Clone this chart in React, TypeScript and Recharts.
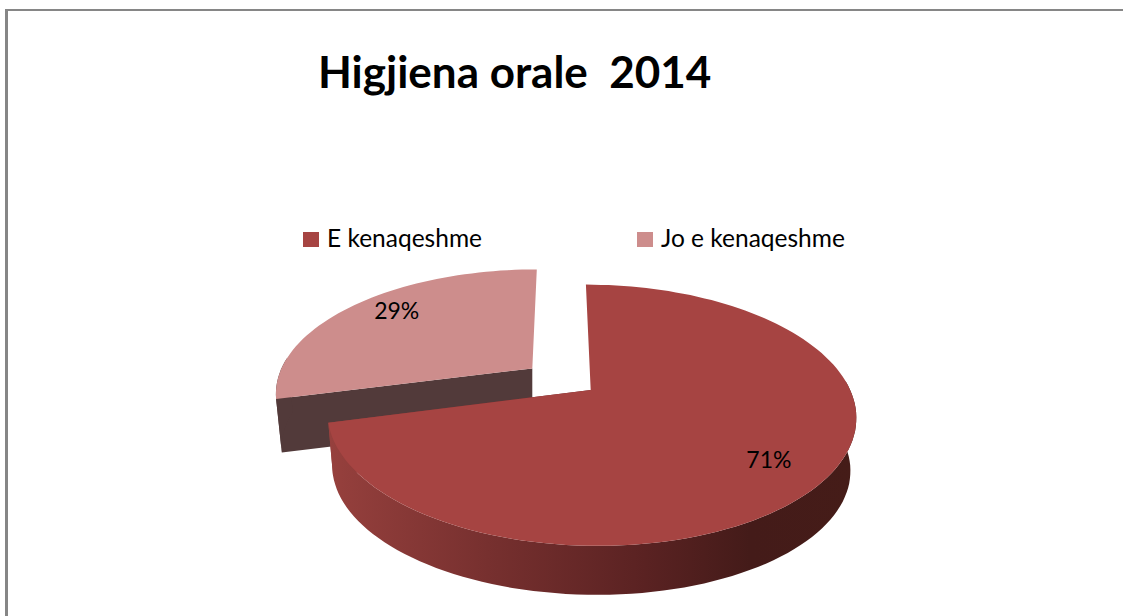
import { Pie, PieChart } from "recharts";

const categories = ["E kenaqeshme", "Jo e kenaqeshme"];
const shares = [71, 29];
const colors = ["#a64442", "#cd8d8c"];
const legendLeft = [303, 637];

const WIDTH = 1123;
const HEIGHT = 616;
const FONT = "Lato, 'Open Sans', sans-serif";

// drawn back slice first so the big slice overlaps it, legend keeps the source order
const rows = categories
  .map((name, i) => ({ name, value: shares[i], fill: colors[i] }))
  .reverse();

const firstAngle = 90 - (360 * shares[0]) / (shares[0] + shares[1]);

// perspective of the tilted pie
const TILT = 0.19;
const SQUASH = 121.5;
const EXPLODE = 37;
const DEPTH = 54;
const RAD = Math.PI / 180;

function project(
  cx: number,
  cy: number,
  radius: number,
  angle: number,
  r: number,
  mid: number,
) {
  const wx = EXPLODE * Math.cos(mid * RAD) + r * Math.cos(angle * RAD);
  const wy = (EXPLODE * -Math.sin(mid * RAD) + r * -Math.sin(angle * RAD)) / radius;
  const w = 1 - TILT * wy;
  return { x: cx + wx / w, y: cy + (SQUASH * wy) / w };
}

function lower(p: { x: number; y: number }, cx: number, cy: number) {
  return { x: cx + (p.x - cx) * 0.98, y: cy + (p.y - cy) * 0.97 + DEPTH };
}

function toPath(points: { x: number; y: number }[]) {
  return (
    points
      .map((p, i) => `${i ? "L" : "M"}${p.x.toFixed(1)} ${p.y.toFixed(1)}`)
      .join(" ") + " Z"
  );
}

function Slice(props: any) {
  const { cx, cy, outerRadius, startAngle, endAngle, fill } = props;
  const mid = (startAngle + endAngle) / 2;
  const steps = Math.ceil(Math.abs(endAngle - startAngle) / 2);
  const rim = [];
  const frontRim = [];
  for (let i = 0; i <= steps; i++) {
    const a = startAngle + ((endAngle - startAngle) * i) / steps;
    const p = project(cx, cy, outerRadius, a, outerRadius, mid);
    rim.push(p);
    // the back of the rim is hidden, its wall would poke out at the cuts
    if (Math.sin(a * RAD) < 0.1) frontRim.push(p);
  }
  const apex = project(cx, cy, outerRadius, mid, 0, mid);
  const frontBelow = frontRim.map((p) => lower(p, cx, cy));
  const isFront = fill === colors[0];
  const wallFill = isFront ? "url(#frontWall)" : "#523a3a";
  // only the cut that faces the viewer shows a wall
  const cut = isFront ? rim[rim.length - 1] : rim[0];

  return (
    <g>
      <defs>
        <linearGradient
          id="frontWall"
          gradientUnits="userSpaceOnUse"
          x1={330}
          y1={0}
          x2={855}
          y2={0}
        >
          <stop offset="0%" stopColor="#96403d" />
          <stop offset="30%" stopColor="#77302f" />
          <stop offset="60%" stopColor="#5a2222" />
          <stop offset="80%" stopColor="#441b19" />
          <stop offset="100%" stopColor="#451c18" />
        </linearGradient>
      </defs>
      <path
        d={toPath([apex, cut, lower(cut, cx, cy), { x: apex.x, y: apex.y + DEPTH }])}
        fill={wallFill}
      />
      <path d={toPath([...frontRim, ...frontBelow.slice().reverse()])} fill={wallFill} />
      <path d={toPath([apex, ...rim])} fill={fill} />
    </g>
  );
}

function SliceLabel(props: any) {
  const { cx, cy, outerRadius, midAngle, percent, fill } = props;
  const p = project(cx, cy, outerRadius, midAngle, outerRadius * 0.78, midAngle);
  const isFront = fill === colors[0];
  return (
    <text
      x={p.x + (isFront ? -1 : 4)}
      y={p.y + (isFront ? 3 : -7)}
      textAnchor="middle"
      dominantBaseline="central"
      fontFamily={FONT}
      fontSize={23}
      fill="#000"
    >
      {`${Math.round(percent * 100)}%`}
    </text>
  );
}

export default function App() {
  return (
    <div
      style={{
        position: "absolute",
        left: 0,
        top: 0,
        width: WIDTH,
        height: HEIGHT,
        overflow: "hidden",
        background: "#fff",
      }}
    >
      <div
        style={{
          position: "absolute",
          left: 5,
          top: 9,
          right: 0,
          bottom: 0,
          borderTop: "2px solid #868686",
          borderLeft: "3px solid #868686",
        }}
      />
      <div
        style={{
          position: "absolute",
          left: 318,
          top: 43,
          fontFamily: FONT,
          fontWeight: 700,
          fontSize: 44,
          lineHeight: "56px",
          whiteSpace: "pre",
          color: "#000",
        }}
      >
        {"Higjiena orale  2014"}
      </div>
      {categories.map((name, i) => (
        <div key={name}>
          <div
            style={{
              position: "absolute",
              left: legendLeft[i],
              top: 232,
              width: 16,
              height: 15,
              background: colors[i],
            }}
          />
          <div
            style={{
              position: "absolute",
              left: legendLeft[i] + 24,
              top: 223,
              fontFamily: FONT,
              fontSize: 24.5,
              lineHeight: "30px",
              whiteSpace: "pre",
              color: "#000",
            }}
          >
            {name}
          </div>
        </div>
      ))}
      <div style={{ position: "absolute", left: 0, top: 0 }}>
        <PieChart width={WIDTH} height={HEIGHT} margin={{ top: 0, right: 0, bottom: 0, left: 0 }}>
          <Pie
            data={rows}
            dataKey="value"
            nameKey="name"
            cx={561}
            cy={379}
            outerRadius={255}
            startAngle={firstAngle}
            endAngle={firstAngle - 360}
            stroke="none"
            shape={Slice}
            label={SliceLabel}
            labelLine={false}
            isAnimationActive={false}
          />
        </PieChart>
      </div>
    </div>
  );
}
